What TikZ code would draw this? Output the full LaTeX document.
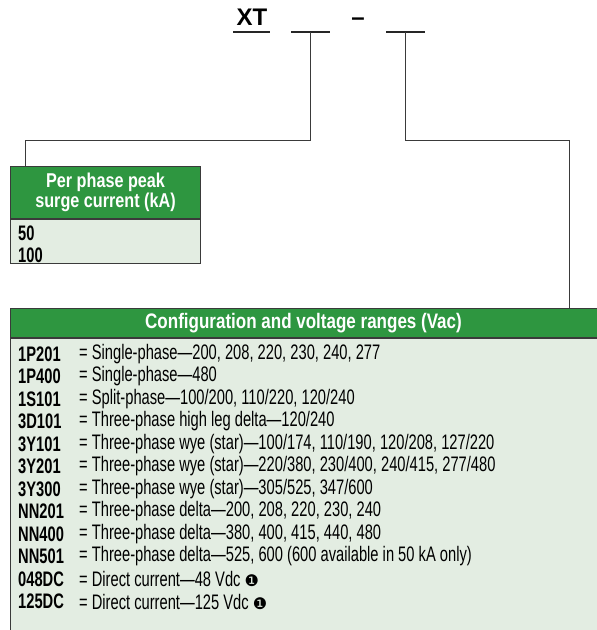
\documentclass[tikz,border=0pt]{standalone}
\usepackage{fontspec}
\setmainfont{Liberation Sans}
\newfontfamily\condfont[FakeStretch=0.70]{Liberation Sans}
\newfontfamily\headfont[FakeStretch=0.81]{Liberation Sans}
\newfontfamily\dingfont{DejaVu Sans}
\usetikzlibrary{calc}

\definecolor{hdrgreen}{RGB}{46,150,64}
\definecolor{bodygreen}{RGB}{227,237,226}
\definecolor{linegray}{RGB}{58,58,58}

\newcommand{\circone}{{\dingfont\fontsize{16}{16}\selectfont ❶}}

\begin{document}
\begin{tikzpicture}[
      x=1pt, y=-1pt,
      headbar/.style={fill=hdrgreen, draw=linegray, line width=1.1pt, text=white,
        font=\headfont\bfseries\fontsize{20}{21}\selectfont, align=center, inner sep=0pt},
      bodybox/.style={fill=bodygreen, draw=linegray, line width=1.1pt, inner sep=0pt},
      code/.style={anchor=west, inner sep=0pt, font=\condfont\bfseries\fontsize{21}{22}\selectfont},
      desc/.style={anchor=west, inner sep=0pt, font=\condfont\fontsize{21}{22}\selectfont},
      blank/.style={minimum width=38pt, minimum height=12pt, inner sep=0pt},
      rule/.style={line width=2pt, draw=black!85},
      link/.style={draw=linegray, line width=1pt}
    ]
    \useasboundingbox (0,0) rectangle (597,630);
    % part number
    \node[font=\bfseries\fontsize{24}{24}\selectfont, inner sep=0pt, anchor=base] (xt) at (252,25.5) {XT};
    \draw[rule] (233,32) -- (270,32);
    \node[blank] (blankA) at (310.5,26) {};
    \node[font=\bfseries\fontsize{24}{24}\selectfont, inner sep=0pt, anchor=base] (dash) at (358,25) {–};
    \node[blank] (blankB) at (405.5,26) {};
    \draw[rule] (blankA.south west) -- (blankA.south east);
    \draw[rule] (blankB.south west) -- (blankB.south east);
    % surge current box
    \node[headbar, anchor=north west, minimum width=190pt, minimum height=52pt] (surgeHead) at (10,166)
      {Per phase peak\\[-1pt]surge current (kA)};
    \node[bodybox, anchor=north west, minimum width=190pt, minimum height=44pt] (surgeBody) at (surgeHead.south west) {};
    \node[code] (ka50) at (18,233) {50};
    \node[code] (ka100) at (18,255) {100};
    % configuration box
    \node[headbar, anchor=north west, minimum width=592pt, minimum height=29pt] (cfgHead) at (10,308) {};
    \node[text=white, font=\headfont\bfseries\fontsize{21}{22}\selectfont, inner sep=0pt] (cfgTitle) at (303.5,323)
      {Configuration and voltage ranges (Vac)};
    \node[bodybox, anchor=north west, minimum width=592pt, minimum height=300pt] (cfgBody) at (cfgHead.south west) {};
    \foreach \c/\d [count=\i] in {
        1P201/{Single-phase—200, 208, 220, 230, 240, 277},
        1P400/{Single-phase—480},
        1S101/{Split-phase—100/200, 110/220, 120/240},
        3D101/{Three-phase high leg delta—120/240},
        3Y101/{Three-phase wye (star)—100/174, 110/190, 120/208, 127/220},
        3Y201/{Three-phase wye (star)—220/380, 230/400, 240/415, 277/480},
        3Y300/{Three-phase wye (star)—305/525, 347/600},
        NN201/{Three-phase delta—200, 208, 220, 230, 240},
        NN400/{Three-phase delta—380, 400, 415, 440, 480},
        NN501/{Three-phase delta—525, 600 (600 available in 50 kA only)},
        048DC/{Direct current—48 Vdc \circone},
        125DC/{Direct current—125 Vdc \circone}} {
      \node[code] (code\i) at (18,{354+(\i-1)*22.5}) {\c};
      \node[desc] (desc\i) at (79,{354+(\i-1)*22.5}) {= \d};
    }
    % connectors
    \coordinate (kinkA) at (25.5,140);
    \coordinate (kinkB) at (569,140);
    \draw[link] (blankA.south) |- (kinkA) -- (kinkA |- surgeHead.north);
    \draw[link] (blankB.south) |- (kinkB) -- (kinkB |- cfgHead.north);
\end{tikzpicture}
\end{document}
